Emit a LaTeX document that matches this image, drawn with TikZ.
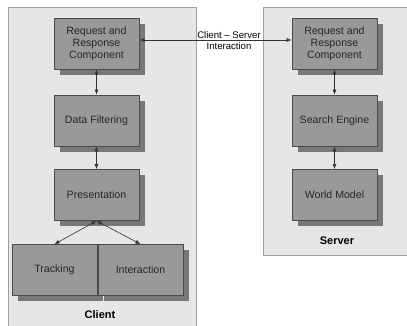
\documentclass[tikz,border=0pt]{standalone}
\usepackage{fontspec}
\setmainfont{Liberation Sans}
\usetikzlibrary{arrows.meta}
\definecolor{panelfill}{HTML}{E6E6E6}
\definecolor{panelline}{HTML}{A0A0A0}
\definecolor{boxfill}{HTML}{999999}
\definecolor{boxline}{HTML}{4A4A4A}
\definecolor{boxshadow}{HTML}{787878}
\definecolor{wire}{HTML}{333333}
\tikzset{
  panel/.style={fill=panelfill, draw=panelline, line width=1pt},
  compbox/.style={draw=boxline, fill=boxfill, line width=0.8pt,
    minimum width=85pt, minimum height=51pt, inner sep=0pt,
    align=center, font=\fontsize{10.6}{12}\selectfont, text=black!85},
  shadowbox/.style={fill=boxshadow, draw=none},
  link/.style={draw=wire, line width=0.6pt,
    {Latex[length=5pt,width=4pt]}-{Latex[length=5pt,width=4pt]}},
  panellabel/.style={font=\fontsize{11}{13}\bfseries\selectfont}
}
\begin{document}
\begin{tikzpicture}[x=1pt,y=-1pt]
\useasboundingbox (0,0) rectangle (407,326);
\clip (0,0) rectangle (407,326);
% panels
\draw[panel] (8,8) rectangle (196,332);
\draw[panel] (263,8) rectangle (412,255);
% drop shadows
\foreach \x/\y in {54/18, 54/95, 54/169, 12/244, 98/244, 292/18, 292/95, 292/169}
  \fill[boxshadow] (\x+6,\y+6) rectangle (\x+91,\y+57);
% client components
\node[compbox] (cRR) at (96.5,43.5) {Request and\\Response\\Component};
\node[compbox] (cDF) at (96.5,120.5) {Data Filtering};
\node[compbox] (cPr) at (96.5,195) {Presentation};
\node[compbox] (cTr) at (54.5,270) {Tracking};
\node[compbox] (cIn) at (140.5,270) {Interaction};
% server components
\node[compbox] (sRR) at (334.5,43.5) {Request and\\Response\\Component};
\node[compbox] (sSE) at (334.5,120.5) {Search Engine};
\node[compbox] (sWM) at (334.5,195) {World Model};
% connectors
\draw[link] (cRR) -- (cDF);
\draw[link] (cDF) -- (cPr);
\draw[link] (cPr.south) -- (cTr.north);
\draw[link] (cPr.south) -- (cIn.north);
\draw[link] (sRR) -- (sSE);
\draw[link] (sSE) -- (sWM);
\draw[link] ([yshift=3.5pt]cRR.east) -- ([yshift=3.5pt]sRR.west);
\node[align=center, font=\fontsize{9.6}{11}\selectfont, inner sep=0pt] (csi) at (229,41) {Client – Server\\Interaction};
% panel titles
\node[panellabel] (clientlbl) at (100,315) {Client};
\node[panellabel] (serverlbl) at (337,241) {Server};
\end{tikzpicture}
\end{document}
